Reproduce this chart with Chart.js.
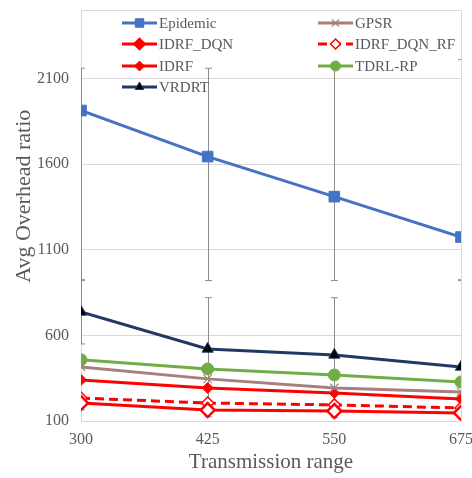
<!DOCTYPE html>
<html>
<head>
<meta charset="utf-8">
<script src="https://cdn.jsdelivr.net/npm/chart.js@4.4.0/dist/chart.umd.min.js"></script>
<style>
  html, body { margin: 0; padding: 0; background: #fff; }
  #wrap { width: 472px; height: 478px; }
</style>
</head>
<body>
<div id="wrap"><canvas id="chart"></canvas></div>
<script>
const ranges = [300, 425, 550, 675];
const yTicks = [100, 600, 1100, 1600, 2100, 2500];

const epidemic = [1913, 1644, 1410, 1174];
const gpsr = [416, 346, 293, 270];
const idrfDqn = [205, 164, 158, 147];
const idrfDqnRf = [234, 205, 194, 176];
const idrf = [340, 293, 264, 229];
const tdrlRp = [457, 404, 369, 328];
const vrdrt = [737, 521, 486, 416];

// error bar ends (low / high)
const epidemicErrLow = [920, 920, 920, 920];
const epidemicErrHigh = [2160, 2160, 2160, 2210];
const vrdrtErrLow = [550, 220, 150, 90];
const vrdrtErrHigh = [925, 820, 820, 925];
const idrfDqnErrLow = [165, 125, 120, 110];
const idrfDqnErrHigh = [250, 205, 200, 185];

const serif = '"Liberation Serif", "Times New Roman", serif';
const textColor = '#595959';
const gridColor = '#d9d9d9';

function pts(values) {
    return values.map((v, i) => ({ x: ranges[i], y: v }));
}

// vertical error bars with caps, drawn under the lines
const errorBars = {
    id: 'errorBars',
    beforeDatasetsDraw(chart) {
        const { ctx, chartArea, scales: { x, y } } = chart;
        ctx.save();
        ctx.beginPath();
        ctx.rect(chartArea.left, chartArea.top, chartArea.width, chartArea.height);
        ctx.clip();
        ctx.strokeStyle = '#8c8c8c';
        ctx.lineWidth = 1;
        chart.data.datasets.forEach(ds => {
            if (!ds.errLow) return;
            ds.errLow.forEach((lo, i) => {
                const px = Math.round(x.getPixelForValue(ranges[i])) + 0.5;
                const yLo = y.getPixelForValue(lo);
                const yHi = y.getPixelForValue(ds.errHigh[i]);
                ctx.beginPath();
                ctx.moveTo(px, yLo);
                ctx.lineTo(px, yHi);
                ctx.moveTo(px - 3.5, yLo);
                ctx.lineTo(px + 3.5, yLo);
                ctx.moveTo(px - 3.5, yHi);
                ctx.lineTo(px + 3.5, yHi);
                ctx.stroke();
            });
        });
        ctx.restore();
    }
};

// light frame round the plot area
const plotFrame = {
    id: 'plotFrame',
    beforeDatasetsDraw(chart) {
        const { ctx, chartArea } = chart;
        ctx.save();
        ctx.strokeStyle = gridColor;
        ctx.lineWidth = 1;
        ctx.strokeRect(Math.round(chartArea.left) + 0.5, Math.round(chartArea.top) + 0.5,
            Math.round(chartArea.width), Math.round(chartArea.height));
        ctx.restore();
    }
};

// two-column legend inside the plot
const legendRows = [
    { label: 'Epidemic', col: 0, row: 0 },
    { label: 'GPSR', col: 1, row: 0 },
    { label: 'IDRF_DQN', col: 0, row: 1 },
    { label: 'IDRF_DQN_RF', col: 1, row: 1 },
    { label: 'IDRF', col: 0, row: 2 },
    { label: 'TDRL-RP', col: 1, row: 2 },
    { label: 'VRDRT', col: 0, row: 3 }
];
const insideLegend = {
    id: 'insideLegend',
    afterDraw(chart) {
        const { ctx, chartArea } = chart;
        const colX = [chartArea.left + 41, chartArea.left + 237];
        const rowY = [chartArea.top + 13, chartArea.top + 34, chartArea.top + 56, chartArea.top + 77];
        ctx.save();
        legendRows.forEach(item => {
            const ds = chart.data.datasets.find(d => d.label === item.label);
            const x0 = colX[item.col];
            const yy = rowY[item.row];
            ctx.strokeStyle = ds.borderColor;
            ctx.lineWidth = 3;
            ctx.setLineDash(ds.borderDash || []);
            ctx.beginPath();
            ctx.moveTo(x0, yy);
            ctx.lineTo(x0 + 35, yy);
            ctx.stroke();
            ctx.setLineDash([]);
            ctx.fillStyle = ds.legendFill || ds.pointBackgroundColor;
            ctx.strokeStyle = ds.pointBorderColor || ds.borderColor;
            ctx.lineWidth = ds.pointBorderWidth;
            Chart.helpers.drawPoint(ctx, {
                pointStyle: ds.pointStyle,
                radius: ds.legendRadius || 5,
                rotation: 0,
                borderWidth: ds.pointBorderWidth
            }, x0 + 17.5, yy);
            ctx.fillStyle = textColor;
            ctx.font = '15px ' + serif;
            ctx.textBaseline = 'middle';
            ctx.fillText(item.label, x0 + 37, yy + 1);
        });
        ctx.restore();
    }
};

new Chart(document.getElementById('chart'), {
    type: 'line',
    data: {
        datasets: [
            {
                label: 'Epidemic', data: pts(epidemic),
                borderColor: '#4472C4', backgroundColor: '#4472C4', borderWidth: 3,
                pointStyle: 'rect', pointRadius: 7.5, pointBackgroundColor: '#4472C4',
                pointBorderColor: '#4472C4', pointBorderWidth: 1, legendRadius: 6,
                errLow: epidemicErrLow, errHigh: epidemicErrHigh
            },
            {
                label: 'GPSR', data: pts(gpsr),
                borderColor: '#A67F7E', backgroundColor: '#A67F7E', borderWidth: 3,
                pointStyle: 'crossRot', pointRadius: 6, pointBackgroundColor: '#A67F7E',
                pointBorderColor: '#A67F7E', pointBorderWidth: 1.2
            },
            {
                label: 'IDRF_DQN', data: pts(idrfDqn),
                borderColor: '#FF0000', backgroundColor: '#FF0000', borderWidth: 3,
                pointStyle: 'rectRot', pointRadius: 7, pointBackgroundColor: '#ffffff',
                pointBorderColor: '#FF0000', pointBorderWidth: 2.5, legendFill: '#FF0000',
                errLow: idrfDqnErrLow, errHigh: idrfDqnErrHigh
            },
            {
                label: 'IDRF_DQN_RF', data: pts(idrfDqnRf),
                borderColor: '#FF0000', backgroundColor: '#FF0000', borderWidth: 3,
                borderDash: [9, 5],
                pointStyle: 'rectRot', pointRadius: 6, pointBackgroundColor: '#ffffff',
                pointBorderColor: '#FF0000', pointBorderWidth: 1.5
            },
            {
                label: 'IDRF', data: pts(idrf),
                borderColor: '#FF0000', backgroundColor: '#FF0000', borderWidth: 3,
                pointStyle: 'rectRot', pointRadius: 5.5, pointBackgroundColor: '#FF0000',
                pointBorderColor: '#FF0000', pointBorderWidth: 1
            },
            {
                label: 'TDRL-RP', data: pts(tdrlRp),
                borderColor: '#70AD47', backgroundColor: '#70AD47', borderWidth: 3,
                pointStyle: 'circle', pointRadius: 6, pointBackgroundColor: '#70AD47',
                pointBorderColor: '#70AD47', pointBorderWidth: 1
            },
            {
                label: 'VRDRT', data: pts(vrdrt),
                borderColor: '#203864', backgroundColor: '#203864', borderWidth: 3,
                pointStyle: 'triangle', pointRadius: 6.5, pointBackgroundColor: '#000000',
                pointBorderColor: '#203864', pointBorderWidth: 1,
                errLow: vrdrtErrLow, errHigh: vrdrtErrHigh
            }
        ]
    },
    options: {
        responsive: true,
        maintainAspectRatio: false,
        animation: false,
        layout: { padding: { top: 10, right: 11, left: 0, bottom: 0 } },
        plugins: {
            legend: { display: false },
            tooltip: { enabled: false }
        },
        scales: {
            x: {
                type: 'linear',
                min: 300,
                max: 675,
                afterBuildTicks: scale => { scale.ticks = ranges.map(v => ({ value: v })); },
                afterFit: scale => { scale.height = 57; scale.paddingRight = 0; },
                grid: { display: false, drawTicks: false },
                border: { display: false },
                ticks: {
                    padding: 9,
                    color: textColor,
                    font: { family: serif, size: 16 },
                    maxRotation: 0
                },
                title: {
                    display: true,
                    text: 'Transmission range',
                    color: textColor,
                    font: { family: serif, size: 21 },
                    padding: { top: 0, bottom: 3 }
                }
            },
            y: {
                min: 100,
                max: 2500,
                afterBuildTicks: scale => { scale.ticks = yTicks.map(v => ({ value: v })); },
                afterFit: scale => { scale.width = 81; scale.paddingTop = 0; },
                grid: { color: gridColor, drawTicks: false, lineWidth: 1 },
                border: { display: false },
                ticks: {
                    padding: 12,
                    color: textColor,
                    font: { family: serif, size: 16 },
                    callback: v => (v === 2500 ? '' : v)
                },
                title: {
                    display: true,
                    text: '\u00a0\u00a0\u00a0\u00a0\u00a0\u00a0\u00a0Avg Overhead ratio',
                    color: textColor,
                    font: { family: serif, size: 22 },
                    padding: { top: 11, bottom: 0 }
                }
            }
        }
    },
    plugins: [plotFrame, errorBars, insideLegend]
});
</script>
</body>
</html>
